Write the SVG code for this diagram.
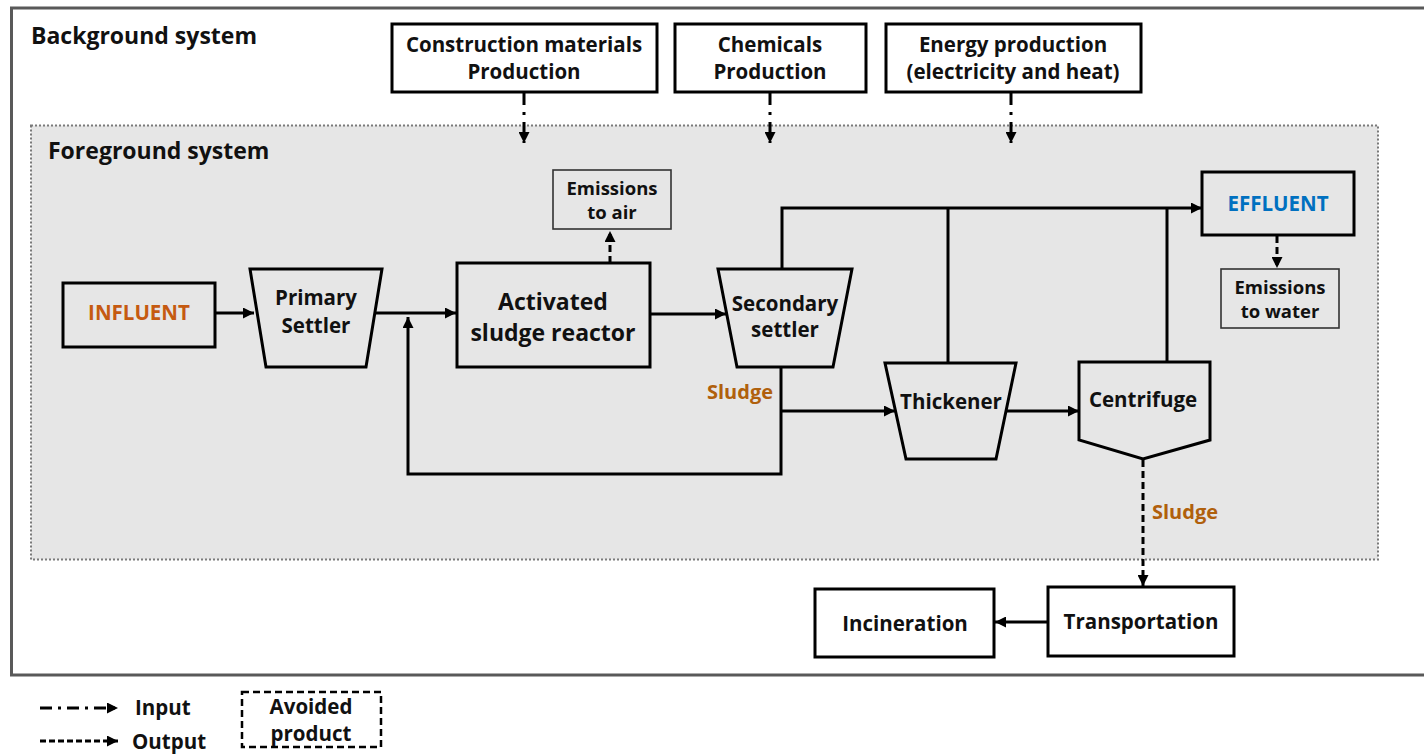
<svg xmlns="http://www.w3.org/2000/svg" width="1424" height="756" viewBox="0 0 1424 756">
<defs>
<style>
text{font-family:"Open Sans","Liberation Sans",Arial,sans-serif;font-weight:bold;fill:#111;text-anchor:middle}
.lbl{font-size:20.5px}
.big{font-size:23px}
.sm{font-size:18.5px}
.hdr{font-size:23px;text-anchor:start}
.box{fill:none;stroke:#000;stroke-width:3}
.boxw{fill:#fff;stroke:#000;stroke-width:3}
.thin{fill:none;stroke:#333;stroke-width:1.6}
.ln{fill:none;stroke:#000;stroke-width:3}
.dash{fill:none;stroke:#000;stroke-width:3;stroke-dasharray:7 4}
.dd{fill:none;stroke:#000;stroke-width:3;stroke-dasharray:12 7 3 7}
.sludge{fill:#B0600C;font-size:20px}
</style>
<marker id="ah" viewBox="0 0 10 10" refX="10" refY="5" markerWidth="11" markerHeight="11" markerUnits="userSpaceOnUse" orient="auto">
<path d="M0,0 L10,5 L0,10 z" fill="#000"/>
</marker>
</defs>
<rect x="0" y="0" width="1424" height="756" fill="#fff"/>
<g id="background-system">
<rect x="11.5" y="8" width="1425" height="667" fill="none" stroke="#595959" stroke-width="3"/>
<text class="hdr" x="31" y="44">Background system</text>
</g>
<g id="foreground-system">
<rect x="31" y="125.5" width="1347" height="434" fill="#e6e6e6" stroke="#7a7a7a" stroke-width="2" stroke-dasharray="2 2"/>
<text class="hdr" x="48" y="159">Foreground system</text>
</g>
<g id="construction">
<rect class="boxw" x="392" y="24" width="265" height="68"/>
<text class="lbl" x="524" y="52">Construction materials</text>
<text class="lbl" x="524" y="79">Production</text>
</g>
<g id="chemicals">
<rect class="boxw" x="675" y="24" width="191" height="68"/>
<text class="lbl" x="770" y="52">Chemicals</text>
<text class="lbl" x="770" y="79">Production</text>
</g>
<g id="energy">
<rect class="boxw" x="886" y="24" width="255" height="68"/>
<text class="lbl" x="1013" y="52">Energy production</text>
<text class="lbl" x="1013" y="79">(electricity and heat)</text>
</g>
<g id="connectors">
<path class="dd" d="M524,93 V143" marker-end="url(#ah)"/>
<path class="dd" d="M770,93 V143" marker-end="url(#ah)"/>
<path class="dd" d="M1011,93 V143" marker-end="url(#ah)"/>
<path class="ln" d="M216,313 H254" marker-end="url(#ah)"/>
<path class="ln" d="M374,313 H456" marker-end="url(#ah)"/>
<path class="ln" d="M781,367 V474 H408 V317" marker-end="url(#ah)"/>
<path class="ln" d="M650,314 H726" marker-end="url(#ah)"/>
<path class="dash" d="M610,263 V231" marker-end="url(#ah)"/>
<path class="ln" d="M782,269 V208 H1202" marker-end="url(#ah)"/>
<path class="ln" d="M948,362 V208"/>
<path class="ln" d="M1167,362 V208"/>
<path class="ln" d="M781,411 H895" marker-end="url(#ah)"/>
<path class="ln" d="M1005,411 H1079" marker-end="url(#ah)"/>
<path class="dash" d="M1277,236 V268" marker-end="url(#ah)"/>
<path class="dash" d="M1143,460 V586" marker-end="url(#ah)"/>
<path class="ln" d="M1048,622 H995" marker-end="url(#ah)"/>
<text class="sludge" x="740" y="399">Sludge</text>
<text class="sludge" x="1185" y="519">Sludge</text>
</g>
<g id="influent">
<rect class="box" x="63" y="283" width="152" height="64"/>
<text class="lbl" x="139" y="320" style="fill:#C55A11">INFLUENT</text>
</g>
<g id="primary-settler">
<path class="box" d="M250,269 H382 L366,367 H266 Z"/>
<text class="lbl" x="316" y="305">Primary</text>
<text class="lbl" x="316" y="333">Settler</text>
</g>
<g id="reactor">
<rect class="box" x="457" y="263" width="193" height="104"/>
<text class="big" x="553" y="310">Activated</text>
<text class="big" x="553" y="341">sludge reactor</text>
</g>
<g id="emissions-air">
<rect class="thin" x="553" y="170" width="118" height="59"/>
<text class="sm" x="612" y="195">Emissions</text>
<text class="sm" x="612" y="219">to air</text>
</g>
<g id="secondary-settler">
<path class="box" d="M718,269 H852 L833,367 H737 Z"/>
<text class="lbl" x="785" y="311">Secondary</text>
<text class="lbl" x="785" y="337">settler</text>
</g>
<g id="effluent">
<rect class="box" x="1202" y="172" width="152" height="63"/>
<text class="lbl" x="1278" y="211" style="fill:#0070C0">EFFLUENT</text>
</g>
<g id="emissions-water">
<rect class="thin" x="1221" y="269" width="118" height="59"/>
<text class="sm" x="1280" y="294">Emissions</text>
<text class="sm" x="1280" y="318">to water</text>
</g>
<g id="thickener">
<path class="box" d="M885,363 H1016 L996,459 H906 Z"/>
<text class="lbl" x="951" y="409">Thickener</text>
</g>
<g id="centrifuge">
<path class="box" d="M1079,362 H1210 V440 L1143,459 L1079,440 Z"/>
<text class="lbl" x="1143" y="407">Centrifuge</text>
</g>
<g id="transportation">
<rect class="boxw" x="1048" y="587" width="186" height="69"/>
<text class="lbl" x="1141" y="629">Transportation</text>
</g>
<g id="incineration">
<rect class="boxw" x="815" y="589" width="179" height="68"/>
<text class="lbl" x="905" y="631">Incineration</text>
</g>
<g id="legend">
<path class="dd" d="M40,708 H118" style="stroke-dasharray:12 6 3 6" marker-end="url(#ah)"/>
<text class="lbl" x="135" y="715" style="text-anchor:start">Input</text>
<path class="dash" d="M40,741 H118" style="stroke-dasharray:6 3" marker-end="url(#ah)"/>
<text class="lbl" x="132" y="749" style="text-anchor:start">Output</text>
<rect x="242" y="692" width="139" height="55" fill="none" stroke="#000" stroke-width="2.5" stroke-dasharray="7 4"/>
<text class="lbl" x="311" y="714">Avoided</text>
<text class="lbl" x="311" y="741">product</text>
</g>
</svg>
